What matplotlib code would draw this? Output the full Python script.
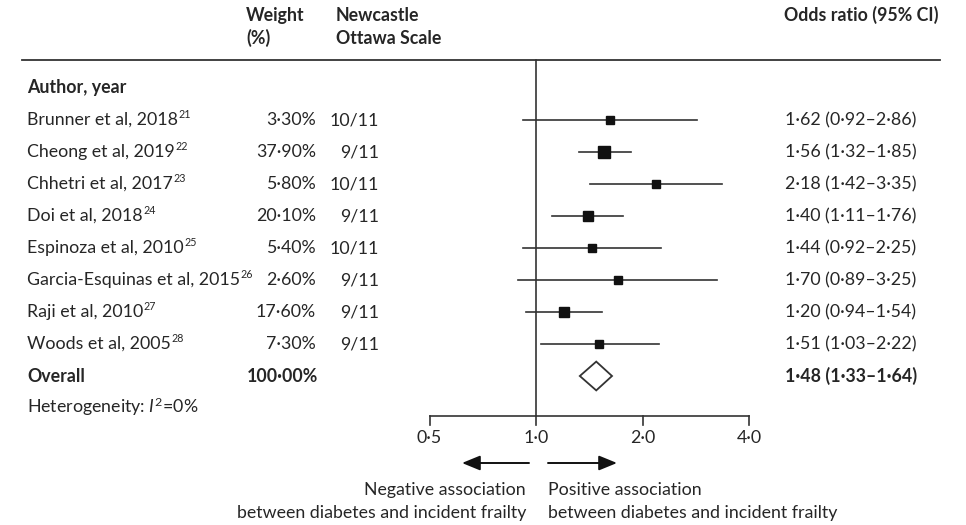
import numpy as np
import matplotlib
matplotlib.use('Agg')
import matplotlib.pyplot as plt
from matplotlib.patches import Polygon
from matplotlib.transforms import blended_transform_factory

# ---- data ----
authors = ['Brunner et al, 2018', 'Cheong et al, 2019', 'Chhetri et al, 2017', 'Doi et al, 2018',
           'Espinoza et al, 2010', 'Garcia-Esquinas et al, 2015', 'Raji et al, 2010', 'Woods et al, 2005']
refs = ['21', '22', '23', '24', '25', '26', '27', '28']
weights = [3.30, 37.90, 5.80, 20.10, 5.40, 2.60, 17.60, 7.30]
nos = ['10/11', '9/11', '10/11', '9/11', '10/11', '9/11', '9/11', '9/11']
odds = [1.62, 1.56, 2.18, 1.40, 1.44, 1.70, 1.20, 1.51]
ci_lo = [0.92, 1.32, 1.42, 1.11, 0.92, 0.89, 0.94, 1.03]
ci_hi = [2.86, 1.85, 3.35, 1.76, 2.25, 3.25, 1.54, 2.22]
overall = (1.48, 1.33, 1.64)
overall_weight = 100.00
ticks = [0.5, 1.0, 2.0, 4.0]

plt.rcParams['font.family'] = ['Lato', 'DejaVu Sans']
plt.rcParams['mathtext.fontset'] = 'custom'
plt.rcParams['mathtext.rm'] = 'Lato'
plt.rcParams['mathtext.it'] = 'Lato:italic'
plt.rcParams['mathtext.bf'] = 'Lato:bold'

TXT = '#262626'
LN = '#333333'
FS = 12.8
W, H = 966, 525

def dot(v, fmt='{:.2f}'):
    return fmt.format(v).replace('.', '\u00b7')

fig = plt.figure(figsize=(W / 100, H / 100), dpi=100)
ax = fig.add_axes([0, 0, 1, 1])
ax.set_xscale('log', base=2)
# 1.0 at 536 px, 106.5 px per doubling
ax.set_xlim(2 ** ((0 - 536) / 106.5), 2 ** ((W - 536) / 106.5))
# rows every 32 px, first study at 120 px
ax.set_ylim((H - 120) / 32, (0 - 120) / 32)
ax.axis('off')

tr = blended_transform_factory(ax.transAxes, ax.transData)
px = lambda x: x / W

# headers
hb = dict(transform=tr, fontsize=FS, fontweight='bold', color=TXT, va='center')
ax.text(px(246), -3.28, 'Weight', **hb)
ax.text(px(246), -2.55, '(%)', **hb)
ax.text(px(336), -3.28, 'Newcastle', **hb)
ax.text(px(336), -2.55, 'Ottawa Scale', **hb)
ax.text(px(939), -3.28, 'Odds ratio (95% CI)', ha='right', **hb)
ax.plot([px(22), px(940)], [-1.875, -1.875], transform=tr, color=LN, lw=1.3)
ax.text(px(27), -1, 'Author, year', **hb)

# study rows
fig.canvas.draw()
rend = fig.canvas.get_renderer()
for i in range(len(authors)):
    t = ax.text(px(27), i, authors[i], transform=tr, fontsize=FS, color=TXT, va='center')
    bb = t.get_window_extent(rend)
    # small superscript reference number right after the year
    ax.annotate(refs[i], xy=(bb.x1 + 0.5, bb.y1 + 2.5), xycoords='figure pixels', fontsize=FS * 0.6,
                color=TXT, ha='left', va='top')
    ax.text(px(316), i, dot(weights[i]) + '%', transform=tr, fontsize=FS, color=TXT, va='center', ha='right')
    ax.text(px(379), i, nos[i], transform=tr, fontsize=FS, color=TXT, va='center', ha='right')
    ax.text(px(785), i, f'{dot(odds[i])} ({dot(ci_lo[i])}\u2013{dot(ci_hi[i])})', transform=tr,
            fontsize=FS, color=TXT, va='center')
    ax.plot([ci_lo[i], ci_hi[i]], [i, i], color=LN, lw=1.2)
    side = 5.9 + 0.99 * np.sqrt(weights[i])
    ax.plot(odds[i], i, marker='s', ms=side * 0.72, color='#111111', mec='#111111', zorder=3)

# overall
n = len(authors)
ax.text(px(27), n, 'Overall', **hb)
ax.text(px(318), n, dot(overall_weight) + '%', ha='right', **hb)
ax.text(px(785), n, f'{dot(overall[0])} ({dot(overall[1])}\u2013{dot(overall[2])})', **hb)
dm = Polygon([(overall[1], n), (overall[0], n - 0.45), (overall[2], n), (overall[0], n + 0.45)],
             closed=True, facecolor='white', edgecolor=LN, lw=1.3, zorder=3)
ax.add_patch(dm)
ax.text(px(27), n + 0.97, 'Heterogeneity: $I^2$=0%', transform=tr, fontsize=FS, color=TXT, va='center')

# reference line and axis
y_axis = (416 - 120) / 32
ax.plot([1, 1], [-1.875, y_axis], color=LN, lw=1.2)
ax.plot([ticks[0], ticks[-1]], [y_axis, y_axis], color=LN, lw=1.2)
for t in ticks:
    ax.plot([t, t], [y_axis, y_axis + 0.29], color=LN, lw=1.2)
    ax.text(t, y_axis + 0.69, dot(t, '{:.1f}'), fontsize=FS, color=TXT, ha='center', va='center')

# direction arrows
ya = (463 - 120) / 32
ap = dict(arrowstyle='-|>,head_length=1.1,head_width=0.45', color='#111111', lw=1.4, shrinkA=0, shrinkB=0)
ax.annotate('', xy=(px(462), ya), xytext=(px(529), ya), xycoords=tr, textcoords=tr, arrowprops=ap)
ax.annotate('', xy=(px(617), ya), xytext=(px(548), ya), xycoords=tr, textcoords=tr, arrowprops=ap)
y1 = (490 - 120) / 32
y2 = (513 - 120) / 32
ax.text(px(526), y1, 'Negative association', transform=tr, fontsize=FS, color=TXT, ha='right', va='center')
ax.text(px(526), y2, 'between diabetes and incident frailty', transform=tr, fontsize=FS, color=TXT,
        ha='right', va='center')
ax.text(px(548), y1, 'Positive association', transform=tr, fontsize=FS, color=TXT, ha='left', va='center')
ax.text(px(548), y2, 'between diabetes and incident frailty', transform=tr, fontsize=FS, color=TXT,
        ha='left', va='center')

plt.savefig('out.png', dpi=100, facecolor='white')
plt.close()
